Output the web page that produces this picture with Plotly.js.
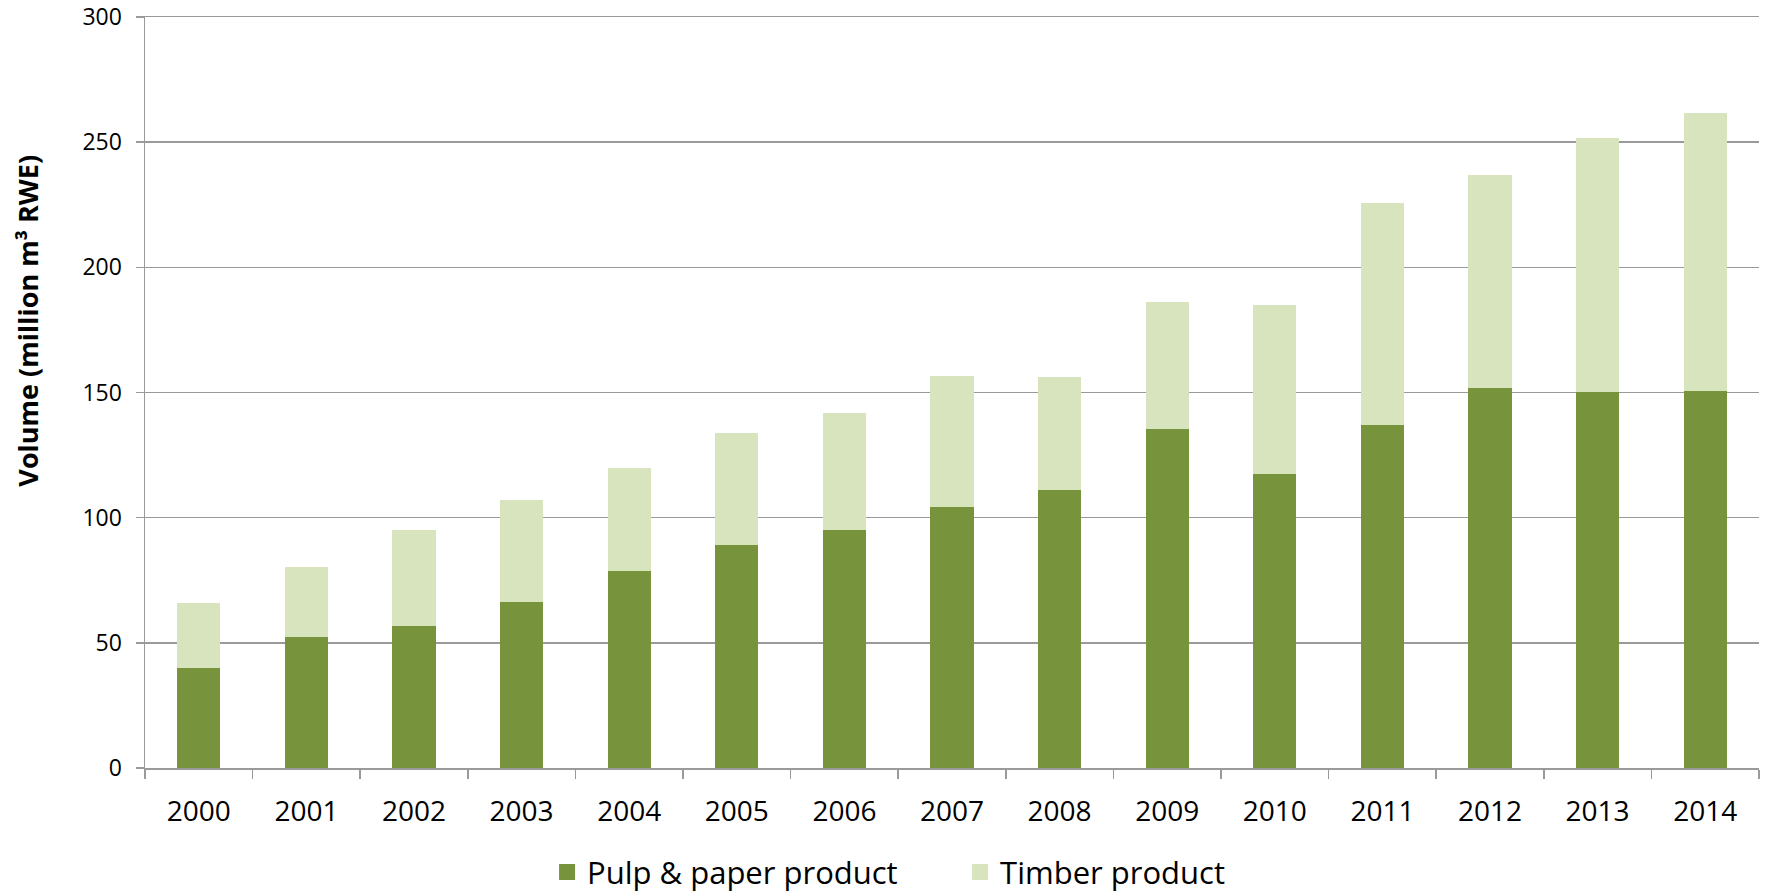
<!DOCTYPE html>
<html><head><meta charset="utf-8">
<script src="https://cdn.plot.ly/plotly-3.0.1.min.js"></script>
<style>html,body{margin:0;padding:0;background:#fff}#chart{width:1770px;height:894px}</style>
</head><body><div id="chart"></div>
<script>
const years = ['2000','2001','2002','2003','2004','2005','2006','2007','2008','2009','2010','2011','2012','2013','2014'];
const pulpPaper = [40.1, 52.2, 56.9, 66.4, 78.6, 89.1, 95.1, 104.3, 111.2, 135.5, 117.3, 136.9, 151.7, 150.2, 150.5];
const timber = [25.9, 28.1, 38.3, 40.7, 41.3, 44.9, 46.7, 52.3, 45.1, 50.7, 67.7, 88.9, 85.3, 101.6, 111.1];
const seriesNames = ['Pulp & paper product', 'Timber product'];
const yTickVals = [0, 50, 100, 150, 200, 250, 300];
const yTitle = 'Volume (million m³ RWE)';

const colPulp = '#77933C', colTimber = '#D7E4BD';
const font = "'Open Sans', sans-serif";
const grey = '#9A9A9A';

const traces = [
  {type:'bar', x:years, y:pulpPaper, name:seriesNames[0], marker:{color:colPulp}, showlegend:false, hoverinfo:'y'},
  {type:'bar', x:years, y:timber, name:seriesNames[1], marker:{color:colTimber}, showlegend:false, hoverinfo:'y'},
  {type:'scatter', mode:'markers', x:[null], y:[null], name:seriesNames[0], marker:{symbol:'square', size:20, color:colPulp}},
  {type:'scatter', mode:'markers', x:[null], y:[null], name:seriesNames[1], marker:{symbol:'square', size:20, color:colTimber}}
];

const layout = {
  width:1770, height:894,
  margin:{l:145, r:11, t:17, b:126, autoexpand:false},
  paper_bgcolor:'#fff', plot_bgcolor:'#fff',
  barmode:'stack', bargap:0.6,
  font:{family:font, size:28, color:'#000'},
  showlegend:true,
  legend:{orientation:'h', traceorder:'normal', x:0.505, xanchor:'center', y:-0.139, yanchor:'middle',
          font:{family:font, size:31, color:'#000'}, entrywidth:368, entrywidthmode:'pixels'},
  xaxis:{type:'category', categoryorder:'array', categoryarray:years,
         showline:true, mirror:true, linecolor:grey, linewidth:1.5, ticks:'outside', ticklen:9, tickcolor:grey, tickwidth:1.5,
         tickson:'boundaries', showgrid:false, zeroline:false, ticklabelstandoff:18,
         tickfont:{family:font, size:28, color:'#000'}, fixedrange:true},
  yaxis:{range:[0,300], tickvals:yTickVals, showline:true, linecolor:grey, linewidth:1.5,
         ticks:'outside', ticklen:8, tickcolor:grey, tickwidth:1.5,
         showgrid:true, gridcolor:grey, gridwidth:1.5, zeroline:false, ticklabelstandoff:9,
         ticklabeloverflow:'allow',
         tickfont:{family:font, size:23, color:'#000'}, fixedrange:true},
  annotations:[{text:yTitle, xref:'paper', yref:'paper', x:-0.0728, y:0.595, xanchor:'center', yanchor:'middle',
                textangle:-90, showarrow:false, font:{family:font, size:27, color:'#000', weight:'bold'}}]
};

Plotly.newPlot('chart', traces, layout, {displayModeBar:false, staticPlot:true});
</script>
</body></html>
